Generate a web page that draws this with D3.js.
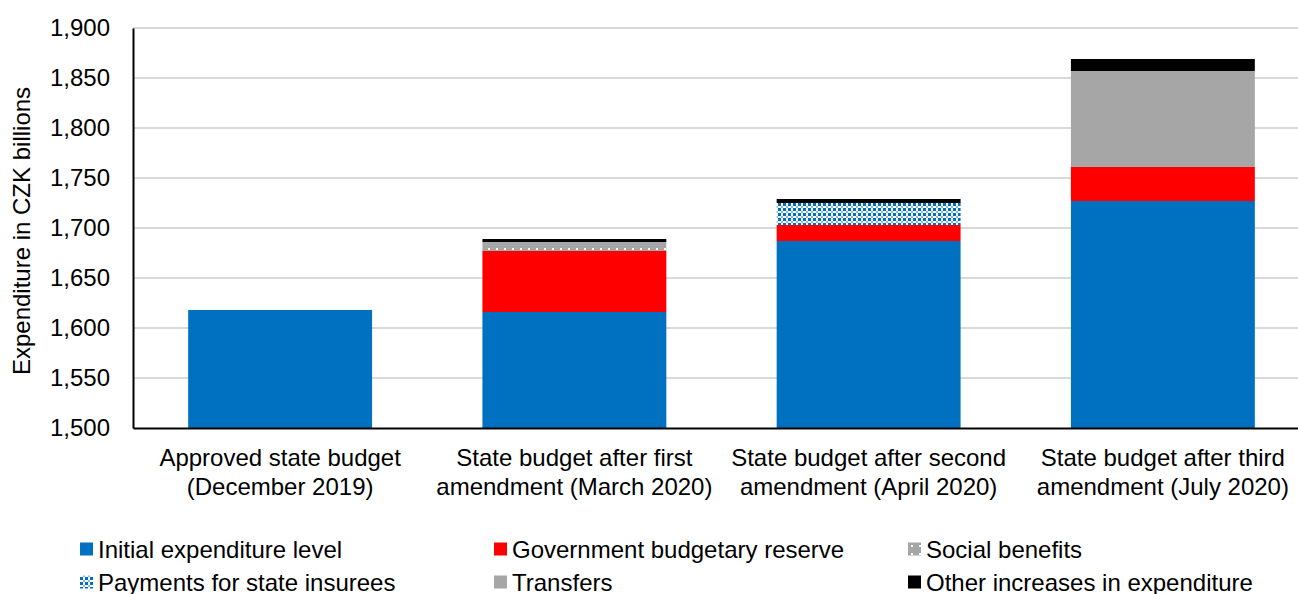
<!DOCTYPE html>
<html>
<head>
<meta charset="utf-8">
<script src="https://cdn.jsdelivr.net/npm/d3@7"></script>
<style>
  body { margin: 0; background: #fff; }
  svg text { font-family: "Liberation Sans", Arial, sans-serif; fill: #000; }
</style>
</head>
<body>
<svg id="drawing_region"></svg>
<script>
var categories = [
    ['Approved state budget', '(December 2019)'],
    ['State budget after first', 'amendment (March 2020)'],
    ['State budget after second', 'amendment (April 2020)'],
    ['State budget after third', 'amendment (July 2020)']
];
var seriesNames = ['Initial expenditure level', 'Government budgetary reserve', 'Social benefits',
    'Payments for state insurees', 'Transfers', 'Other increases in expenditure'];
var initialLevel = [1618, 1616, 1687, 1727];
var budgetReserve = [0, 61, 16, 34];
var socialBenefits = [0, 9, 0, 0];
var insurees = [0, 0, 22, 0];
var transfers = [0, 0, 0, 96];
var otherIncreases = [0, 3, 4, 12];
var yTicks = [1500, 1550, 1600, 1650, 1700, 1750, 1800, 1850, 1900];

var seriesValues = [initialLevel, budgetReserve, socialBenefits, insurees, transfers, otherIncreases];
var fills = ['#0070c0', '#ff0000', 'url(#pat_social)', 'url(#pat_insurees)', '#a6a6a6', '#000000'];

var width = 1298;
var height = 594;
var margin = {top: 28, right: -12, bottom: 166, left: 133};
const inner_width = width - margin.left - margin.right;
const inner_height = height - margin.top - margin.bottom;

var svg = d3.select('#drawing_region')
    .attr('width', width)
    .attr('height', height);

// patterns
var defs = svg.append('defs');
var ps = defs.append('pattern').attr('id', 'pat_social')
    .attr('patternUnits', 'userSpaceOnUse').attr('width', 8).attr('height', 8);
ps.append('rect').attr('width', 8).attr('height', 8).attr('fill', '#a6a6a6');
ps.append('rect').attr('x', 3).attr('y', 4).attr('width', 2).attr('height', 2).attr('fill', '#fff');

var pi = defs.append('pattern').attr('id', 'pat_insurees')
    .attr('patternUnits', 'userSpaceOnUse').attr('width', 5).attr('height', 5);
pi.append('rect').attr('width', 5).attr('height', 5).attr('fill', '#ffffff');
pi.append('rect').attr('x', 0).attr('y', 0).attr('width', 3).attr('height', 3).attr('fill', '#0070c0');
pi.append('rect').attr('x', 3).attr('y', 3).attr('width', 2).attr('height', 2).attr('fill', '#8bbbe3');

var chart = svg.append('g')
    .attr('transform', `translate(${margin.left}, ${margin.top})`);

const xscale = d3.scaleBand()
      .domain(d3.range(categories.length))
      .range([0, inner_width])
      .paddingInner(0.375)
      .paddingOuter(0.1875);

const yscale = d3.scaleLinear()
      .domain([1500, 1900])
      .range([inner_height, 0])
      .clamp(true);

// gridlines
chart.append('g')
    .selectAll('line')
    .data(yTicks.slice(1))
    .join('line')
    .attr('x1', 0).attr('x2', inner_width)
    .attr('y1', d => yscale(d)).attr('y2', d => yscale(d))
    .attr('stroke', '#d9d9d9')
    .attr('stroke-width', 2);

// stacked data
var rows = categories.map((c, i) => {
    var r = {idx: i};
    seriesNames.forEach((s, j) => { r[s] = seriesValues[j][i]; });
    return r;
});
var stacked = d3.stack().keys(seriesNames)(rows);

chart.append('g')
    .selectAll('g')
    .data(stacked)
    .join('g')
    .attr('fill', (d, i) => fills[i])
    .selectAll('rect')
    .data(d => d.filter(p => p[1] > p[0]))
    .join('rect')
    .attr('x', d => xscale(d.data.idx))
    .attr('width', xscale.bandwidth())
    .attr('y', d => yscale(d[1]))
    .attr('height', d => yscale(d[0]) - yscale(d[1]));

// y axis
const yaxis = d3.axisLeft(yscale)
      .tickValues(yTicks)
      .tickSize(0)
      .tickPadding(23)
      .tickFormat(d3.format(','));
const yaxis_group = chart.append('g').call(yaxis);
yaxis_group.select('.domain').attr('stroke', '#000').attr('stroke-width', 2);
yaxis_group.selectAll('text')
    .style('font-family', '"Liberation Sans", Arial, sans-serif')
    .style('font-size', '24px');

// x axis
const xaxis = d3.axisBottom(xscale).tickSize(0).tickFormat('');
const xaxis_group = chart.append('g')
      .attr('transform', `translate(0, ${inner_height})`)
      .call(xaxis);
xaxis_group.select('.domain').attr('stroke', '#000').attr('stroke-width', 2);

xaxis_group.selectAll('.tick')
    .each(function(d) {
        var t = d3.select(this).append('text')
            .attr('text-anchor', 'middle')
            .style('font-size', '24px')
            .attr('fill', '#000');
        categories[d].forEach((line, k) => {
            t.append('tspan').attr('x', 0).attr('y', 38 + k * 29).text(line);
        });
    });

// y title
svg.append('text')
    .attr('transform', `translate(30, ${margin.top + inner_height / 2 + 3}) rotate(-90)`)
    .attr('text-anchor', 'middle')
    .style('font-size', '24px')
    .text('Expenditure in CZK billions');

// legend
var legendX = [80, 494, 908];
var legendY = [549, 582];
var legend = svg.append('g')
    .selectAll('g')
    .data(seriesNames)
    .join('g')
    .attr('transform', (d, i) => `translate(${legendX[i % 3]}, ${legendY[Math.floor(i / 3)]})`);
legend.append('rect')
    .attr('x', 0).attr('y', -6.5)
    .attr('width', 13).attr('height', 13)
    .attr('fill', (d, i) => fills[i]);
legend.append('text')
    .attr('x', 18).attr('y', 8.5)
    .style('font-size', '24px')
    .text(d => d);
</script>
</body>
</html>
